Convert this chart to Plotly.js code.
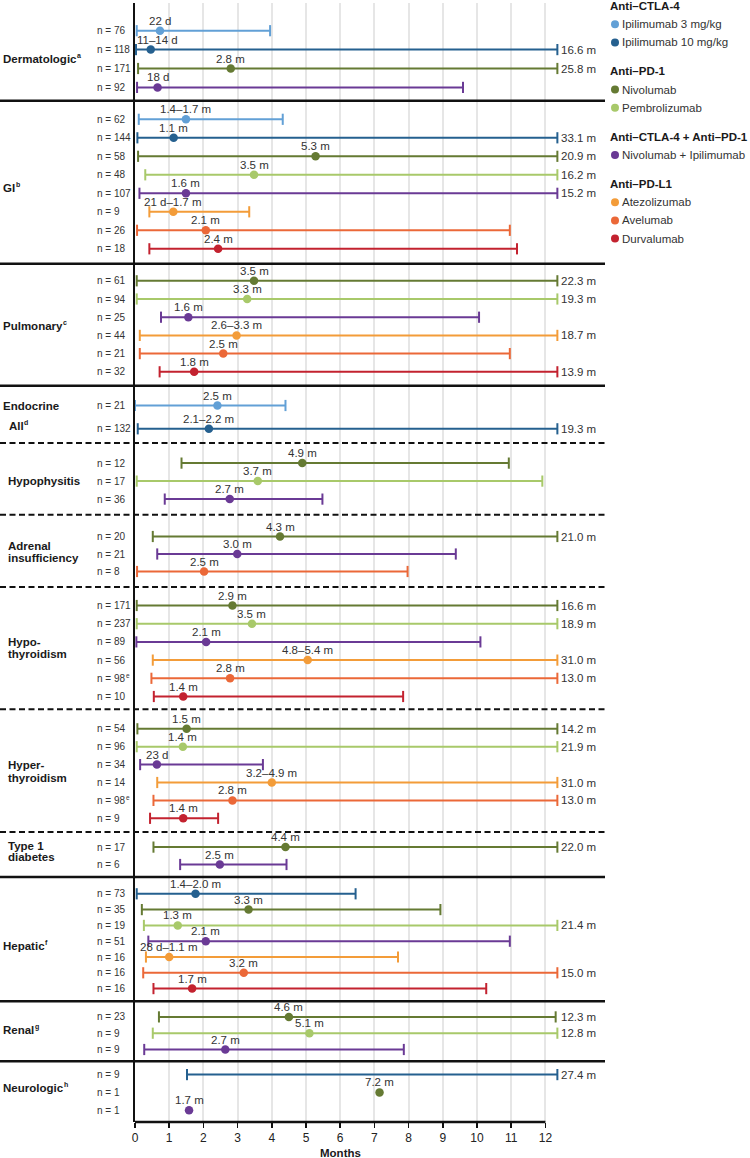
<!DOCTYPE html>
<html><head><meta charset="utf-8">
<script src="https://cdn.plot.ly/plotly-3.0.1.min.js"></script>
<style>html,body{margin:0;padding:0;background:#fff}#chart{width:750px;height:1158px}</style>
</head><body><div id="chart"></div>
<script>
// ---------------- DATA ----------------
const drugs = ['Ipilimumab 3 mg/kg','Ipilimumab 10 mg/kg','Nivolumab','Pembrolizumab','Nivolumab + Ipilimumab','Atezolizumab','Avelumab','Durvalumab'];
const drugClass = [0,0,1,1,2,3,3,3];
const classNames = ['Anti–CTLA-4','Anti–PD-1','Anti–CTLA-4 + Anti–PD-1','Anti–PD-L1'];

const groupLabels = [
  ['Dermatologic'], ['GI'], ['Pulmonary'], ['Endocrine','All'],
  ['Hypophysitis'], ['Adrenal','insufficiency'], ['Hypo-','thyroidism'], ['Hyper-','thyroidism'],
  ['Type 1','diabetes'], ['Hepatic'], ['Renal'], ['Neurologic']
];
const groupNote = ['a','b','c','d','','','','','','f','g','h'];
const groupSection = ['Derm','GI','Pulm','Endo','Endo','Endo','Endo','Endo','Endo','Hep','Renal','Neuro'];
const groupSizes = [4,8,6,2,3,3,6,6,2,7,3,3];

const rowDrug = [0,1,2,4, 0,1,2,3,4,5,6,7, 2,3,4,5,6,7, 0,1, 2,3,4, 2,4,6, 2,3,4,5,6,7, 2,3,4,5,6,7, 2,4, 1,2,3,4,5,6,7, 2,3,4, 1,2,4];
const rowN = ['76','118','171','92', '62','144','58','48','107','9','26','18', '61','94','25','44','21','32', '21','132',
  '12','17','36', '20','21','8', '171','237','89','56','98','10', '54','96','34','14','98','9',
  '17','6', '73','35','19','51','16','16','16', '23','9','9', '9','1','1'];
const rowNNote = {30: 'e', 36: 'e'};
const rowMin = [0.05,0.03,0.09,0.06, 0.11,0.07,0.09,0.30,0.13,0.42,0.06,0.42, 0.05,0.05,0.76,0.14,0.14,0.72, 0.00,0.08,
  1.36,0.05,0.87, 0.52,0.65,0.06, 0.05,0.05,0.04,0.52,0.48,0.55, 0.07,0.05,0.15,0.65,0.54,0.44,
  0.54,1.32, 0.05,0.20,0.26,0.39,0.32,0.24,0.54, 0.70,0.52,0.27, 1.52,null,null];
const rowMedian = [0.73,0.46,2.80,0.66, 1.49,1.13,5.28,3.48,1.49,1.12,2.07,2.43, 3.48,3.28,1.56,2.97,2.58,1.73, 2.41,2.16,
  4.89,3.59,2.77, 4.24,2.99,2.02, 2.85,3.42,2.08,5.05,2.78,1.41, 1.51,1.40,0.64,4.00,2.85,1.41,
  4.40,2.48, 1.77,3.32,1.25,2.07,1.00,3.18,1.67, 4.50,5.10,2.64, null,7.15,1.58];
const rowMedianText = ['22 d','11–14 d','2.8 m','18 d', '1.4–1.7 m','1.1 m','5.3 m','3.5 m','1.6 m','21 d–1.7 m','2.1 m','2.4 m',
  '3.5 m','3.3 m','1.6 m','2.6–3.3 m','2.5 m','1.8 m', '2.5 m','2.1–2.2 m', '4.9 m','3.7 m','2.7 m', '4.3 m','3.0 m','2.5 m',
  '2.9 m','3.5 m','2.1 m','4.8–5.4 m','2.8 m','1.4 m', '1.5 m','1.4 m','23 d','3.2–4.9 m','2.8 m','1.4 m',
  '4.4 m','2.5 m', '1.4–2.0 m','3.3 m','1.3 m','2.1 m','28 d–1.1 m','3.2 m','1.7 m', '4.6 m','5.1 m','2.7 m', '','7.2 m','1.7 m'];
const rowMax = [3.95,16.6,25.8,9.59, 4.32,33.1,20.9,16.2,15.2,3.34,10.96,11.17, 22.3,19.3,10.06,18.7,10.96,13.9, 4.40,19.3,
  10.93,11.91,5.48, 21.0,9.38,7.97, 16.6,18.9,10.10,31.0,13.0,7.84, 14.2,21.9,3.74,31.0,13.0,2.43,
  22.0,4.43, 6.45,8.93,21.4,10.96,7.69,15.0,10.27, 12.3,12.8,7.86, 27.4,null,null];
const tickVals = [0,1,2,3,4,5,6,7,8,9,10,11,12];

// ---------------- LAYOUT / STYLE ----------------
const drugColors = ['#62a0d6','#25608f','#657a33','#a8c96a','#6a3a95','#f39c39','#eb6838','#c3222f'];
const FONT = 'Liberation Sans, Arial, Helvetica, sans-serif';
const W = 750, H = 1158, ML = 135, MR = 145, MT = 3, MB = 36;
const plotW = W - ML - MR, plotH = H - MT - MB;
const pxPerMonth = 34.2;
const xMax = plotW / pxPerMonth;
const yTop = MT, yBottom = H - MB;
const clampX = 12.35;      // visible end of truncated ranges
const labelMinLimit = 12;  // ranges beyond axis get value label

// vertical spacing per group (layout only)
const padTop =    [27.7, 18.5, 17.0, 19.7, 20.0, 21.7, 18.4, 19.5, 15.0, 16.7, 15.6, 13.3];
const rowStep =   [18.9, 18.5, 18.2, 23.3, 18.0, 17.5, 18.2, 17.9, 17.4, 15.8, 16.3, 17.8];
const padBottom = [13.4, 15.0, 14.0, 14.3, 15.7, 15.6, 12.8, 13.8, 12.6, 12.7, 11.8, 11.7];
const labelShift = [0, 4, 0, -1, 0, -2, -3, -2.5, -4.5, 5, -3, -4];
const labelGap =   [0, 0, 0, 20.5, 0, 11.5, 11.5, 13, 11, 0, 0, 0];
const labelIndent = [[3],[3],[3],[3,9],[8],[8,8],[8,8],[8,8],[8,8],[3],[3],[3]];

// text measuring for superscript placement
const ctx = document.createElement('canvas').getContext('2d');
function textWidth(s, size, bold) {
  ctx.font = (bold ? 'bold ' : '') + size + 'px "Liberation Sans", Arial, sans-serif';
  return ctx.measureText(s).width;
}

const rowY = [], sepY = [], groupCenters = [];
let cursor = yTop;
groupSizes.forEach((n, g) => {
  const first = cursor + padTop[g];
  for (let i = 0; i < n; i++) rowY.push(first + i * rowStep[g]);
  const last = first + (n - 1) * rowStep[g];
  groupCenters.push((first + last) / 2);
  cursor = last + padBottom[g];
  if (g < groupSizes.length - 1) sepY.push({y: cursor, dashed: groupSection[g] === groupSection[g + 1]});
});

const px2paperX = px => (px - ML) / plotW;
const px2paperY = py => (yBottom - py) / plotH;

// ---------------- TRACES ----------------
const traces = [];
drugs.forEach((name, d) => {
  const xs = [], ys = [];
  const mx = [], my = [];
  rowDrug.forEach((rd, i) => {
    if (rd !== d) return;
    if (rowMin[i] !== null && rowMax[i] !== null) {
      xs.push(rowMin[i], Math.min(rowMax[i], clampX), null);
      ys.push(rowY[i], rowY[i], null);
    }
    if (rowMedian[i] !== null) { mx.push(rowMedian[i]); my.push(rowY[i]); }
  });
  traces.push({
    type: 'scatter', mode: 'lines+markers', x: xs, y: ys, showlegend: false, hoverinfo: 'skip',
    line: {color: drugColors[d], width: 2},
    marker: {symbol: 'line-ns', size: 8, color: drugColors[d], line: {color: drugColors[d], width: 2}}
  });
  traces.push({
    type: 'scatter', mode: 'markers', x: mx, y: my, name: name, showlegend: false, hoverinfo: 'skip',
    marker: {size: 8.5, color: drugColors[d]}
  });
});

// ---------------- ANNOTATIONS ----------------
const ann = [];
const txt = (o) => Object.assign({showarrow: false, borderpad: 0, borderwidth: 0}, o);

rowY.forEach((y, i) => {
  // n labels
  const nText = 'n = ' + rowN[i];
  ann.push(txt({xref: 'paper', yref: 'y', x: px2paperX(97), y: y, xanchor: 'left', yanchor: 'middle',
    text: nText, font: {family: FONT, size: 10, color: '#333'}}));
  if (rowNNote[i]) {
    ann.push(txt({xref: 'paper', yref: 'y', x: px2paperX(97 + textWidth(nText, 10, false) + 0.5), y: y, yshift: 3,
      xanchor: 'left', yanchor: 'middle', text: rowNNote[i], font: {family: FONT, size: 6.5, color: '#333'}}));
  }
  // median labels
  if (rowMedian[i] !== null && rowMedianText[i]) {
    const t = rowMedianText[i];
    const half = textWidth(t, 11.5, false) / 2;
    const nearAxis = rowMedian[i] * pxPerMonth < half;
    ann.push(txt({xref: 'x', yref: 'y', x: nearAxis ? 0 : rowMedian[i], y: y, yshift: 10,
      xanchor: nearAxis ? 'left' : 'center', xshift: nearAxis ? 1.5 : 0, yanchor: 'middle',
      text: t, font: {family: FONT, size: 11.5, color: '#333'}}));
  }
  // right labels for truncated ranges
  if (rowMax[i] !== null && rowMax[i] > labelMinLimit) {
    ann.push(txt({xref: 'x', yref: 'y', x: clampX, y: y, xshift: 4, xanchor: 'left', yanchor: 'middle',
      text: rowMax[i].toFixed(1) + ' m', font: {family: FONT, size: 11.5, color: '#333'}}));
  }
});

// category labels (+ footnote letters)
groupLabels.forEach((lines, g) => {
  const c = groupCenters[g] + labelShift[g];
  lines.forEach((ln, k) => {
    const y = c + (k - (lines.length - 1) / 2) * labelGap[g];
    const x0 = labelIndent[g][k];
    ann.push(txt({xref: 'paper', yref: 'y', x: px2paperX(x0), y: y, xanchor: 'left', yanchor: 'middle',
      text: '<b>' + ln + '</b>', font: {family: FONT, size: 11.5, color: '#1a1a1a'}}));
    if (k === lines.length - 1 && groupNote[g]) {
      ann.push(txt({xref: 'paper', yref: 'y', x: px2paperX(x0 + textWidth(ln, 11.5, true) + 0.5), y: y, yshift: 3.5,
        xanchor: 'left', yanchor: 'middle', text: '<b>' + groupNote[g] + '</b>',
        font: {family: FONT, size: 7, color: '#1a1a1a'}}));
    }
  });
});

// axis title
ann.push(txt({xref: 'x', yref: 'paper', x: 6, y: px2paperY(1152.5), xanchor: 'center', yanchor: 'middle',
  text: '<b>Months</b>', font: {family: FONT, size: 11.5, color: '#1a1a1a'}}));

// legend (class headings + drug entries)
const shapes = [];
let ly = 6;
classNames.forEach((cn, c) => {
  if (c > 0) ly += 29;
  ann.push(txt({xref: 'paper', yref: 'paper', x: px2paperX(610), y: px2paperY(ly), xanchor: 'left', yanchor: 'middle',
    text: '<b>' + cn + '</b>', font: {family: FONT, size: 11.5, color: '#1a1a1a'}}));
  drugs.forEach((dn, d) => {
    if (drugClass[d] !== c) return;
    ly += 18.2;
    ann.push(txt({xref: 'paper', yref: 'paper', x: px2paperX(622), y: px2paperY(ly), xanchor: 'left', yanchor: 'middle',
      text: dn, font: {family: FONT, size: 11.5, color: '#333'}}));
    shapes.push({type: 'circle', xref: 'paper', yref: 'paper', layer: 'above',
      x0: px2paperX(611), x1: px2paperX(619), y0: px2paperY(ly + 4), y1: px2paperY(ly - 4),
      fillcolor: drugColors[d], line: {width: 0}});
  });
});

// separators
sepY.forEach(s => {
  shapes.push({type: 'line', xref: 'paper', yref: 'y', x0: px2paperX(0), x1: px2paperX(605), y0: s.y, y1: s.y,
    line: {color: '#111', width: s.dashed ? 2 : 2.5, dash: s.dashed ? '6px,3.5px' : 'solid'}});
});
// x axis line (0..12 only)
shapes.push({type: 'line', xref: 'paper', yref: 'paper', x0: 0, x1: 12 / xMax, y0: 0, y1: 0,
  line: {color: '#111', width: 2.5}});

const layout = {
  width: W, height: H, margin: {l: ML, r: MR, t: MT, b: MB, pad: 0},
  paper_bgcolor: '#fff', plot_bgcolor: '#fff', showlegend: false,
  font: {family: FONT, size: 11.5, color: '#333'},
  xaxis: {range: [0, xMax], tickmode: 'array', tickvals: tickVals, ticktext: tickVals.map(String),
    ticks: 'outside', ticklen: 5, tickwidth: 1.5, tickcolor: '#111', showline: false,
    showgrid: true, gridcolor: '#e6e6e6', gridwidth: 2, zeroline: false,
    tickfont: {family: FONT, size: 12, color: '#222'}, fixedrange: true},
  yaxis: {range: [yBottom, yTop], showline: true, linewidth: 2.5, linecolor: '#111', showgrid: false,
    zeroline: false, showticklabels: false, ticks: '', fixedrange: true},
  annotations: ann, shapes: shapes
};

Plotly.newPlot('chart', traces, layout, {displayModeBar: false, staticPlot: true});
</script></body></html>
